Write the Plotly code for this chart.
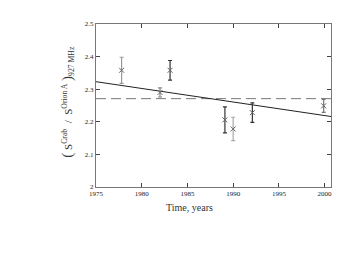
import plotly.graph_objects as go

years = [1977.8, 1982.0, 1983.1, 1989.1, 1990.0, 1992.1, 1999.9]
ratio = [2.358, 2.290, 2.358, 2.206, 2.178, 2.228, 2.249]
err = [0.040, 0.014, 0.030, 0.040, 0.036, 0.030, 0.020]
err_color = ["#999999", "#888888", "#333333", "#333333", "#aaaaaa", "#333333", "#777777"]
fit_x = [1975, 2001]
fit_y = [2.323, 2.215]
mean_val = 2.271

fig = go.Figure()
fig.add_trace(go.Scatter(x=[1975, 2001], y=[mean_val, mean_val], mode="lines",
                         line=dict(color="#777777", width=1, dash="10px,5px"), showlegend=False))
fig.add_trace(go.Scatter(x=fit_x, y=fit_y, mode="lines",
                         line=dict(color="#222222", width=1), showlegend=False))
for xv, yv, ev, c in zip(years, ratio, err, err_color):
    fig.add_trace(go.Scatter(x=[xv], y=[yv], mode="markers",
                             marker=dict(symbol="x-thin", size=5, color="#666666",
                                         line=dict(width=1, color="#666666")),
                             error_y=dict(type="data", array=[ev], color=c, thickness=1.2, width=2),
                             showlegend=False))

font = "Liberation Serif"
nb = "\u00a0"
ytitle = ("<span style='font-size:15px'>(</span>" + nb + "S<sup>Crab</sup>" + nb * 2 + "/" + nb * 2 +
          "S<sup>Orion A</sup>" + nb + "<span style='font-size:15px'>)</span><sub>927 MHz</sub>")
fig.update_layout(
    width=355, height=265,
    margin=dict(l=88, r=32, t=13, b=86),
    paper_bgcolor="white", plot_bgcolor="white",
    font=dict(family=font, color="#222222"),
    annotations=[
        dict(text="Time, years", xref="paper", yref="paper", x=0.396, y=-0.127,
             xanchor="center", yanchor="middle", showarrow=False,
             font=dict(size=10, family=font, color="#333333")),
        dict(text=ytitle, xref="paper", yref="paper", x=-0.123, y=0.524, textangle=-90,
             xanchor="center", yanchor="middle", showarrow=False,
             font=dict(size=11, family=font, color="#333333")),
    ],
)
fig.update_xaxes(range=[1975, 2000.7], tickvals=[1975, 1980, 1985, 1990, 1995, 2000],
                 ticks="inside", ticklen=4, tickcolor="#444444", mirror="ticks",
                 showline=True, linecolor="#777777", linewidth=1, showgrid=False, zeroline=False,
                 tickfont=dict(size=7, family=font))
fig.update_yaxes(range=[2.0, 2.5], tickvals=[2.0, 2.1, 2.2, 2.3, 2.4, 2.5],
                 ticktext=["2", "2.1", "2.2", "2.3", "2.4", "2.5"],
                 ticks="inside", ticklen=4, tickcolor="#444444", mirror="ticks",
                 showline=True, linecolor="#777777", linewidth=1, showgrid=False, zeroline=False,
                 tickfont=dict(size=7, family=font))

fig.write_html("out.html")
